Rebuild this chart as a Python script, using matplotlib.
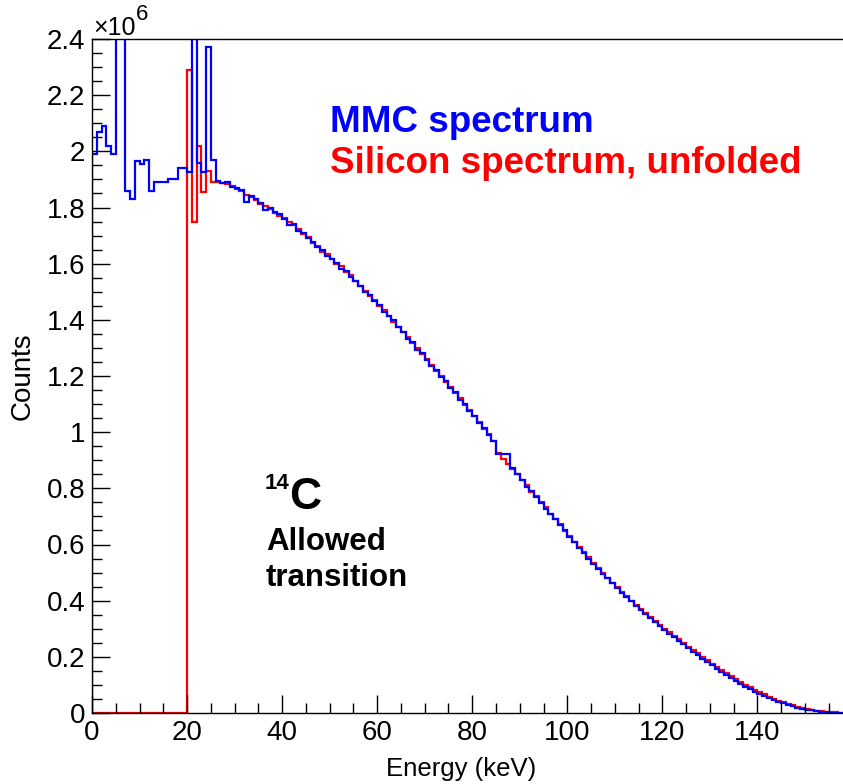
import numpy as np
import matplotlib
matplotlib.use('Agg')
import matplotlib.pyplot as plt
from matplotlib.ticker import MultipleLocator, FuncFormatter

plt.rcParams['font.family'] = ['Liberation Sans Narrow', 'Liberation Sans', 'DejaVu Sans']

# 1 keV bins, 0 .. 158 keV, counts in units of 1e6
edges = np.arange(0, 159, 1)

mmc_low = [1.99, 2.07, 2.09, 2.02, 1.99, 2.90, 2.70, 1.86, 1.83, 1.965,
           1.955, 1.97, 1.86, 1.89, 1.89, 1.89, 1.90, 1.90, 1.94, 1.94,
           1.925, 2.80, 1.96, 1.925, 2.37, 1.97]
si_low = [0.0] * 20 + [2.29, 1.75, 2.02, 1.855, 1.93, 1.89]

# 26 .. 157 keV
mmc_tail = [1.894, 1.886, 1.890, 1.874, 1.870, 1.862, 1.818, 1.840, 1.832, 1.816,
            1.790, 1.800, 1.784, 1.776, 1.760, 1.738, 1.742, 1.716, 1.708, 1.690,
            1.678, 1.660, 1.650, 1.628, 1.616, 1.604, 1.582, 1.574, 1.552, 1.540,
            1.520, 1.498, 1.488, 1.466, 1.452, 1.428, 1.414, 1.398, 1.374, 1.358,
            1.332, 1.322, 1.294, 1.282, 1.258, 1.236, 1.220, 1.196, 1.182, 1.156,
            1.142, 1.116, 1.100, 1.076, 1.058, 1.034, 1.014, 0.990, 0.968, 0.922,
            0.922, 0.922, 0.872, 0.850, 0.830, 0.806, 0.790, 0.770, 0.748, 0.728,
            0.710, 0.690, 0.668, 0.650, 0.628, 0.610, 0.588, 0.570, 0.548, 0.532,
            0.514, 0.494, 0.480, 0.462, 0.446, 0.428, 0.414, 0.398, 0.382, 0.368,
            0.352, 0.338, 0.324, 0.310, 0.296, 0.282, 0.270, 0.256, 0.244, 0.230,
            0.218, 0.206, 0.194, 0.182, 0.170, 0.158, 0.146, 0.136, 0.124, 0.114,
            0.104, 0.094, 0.085, 0.076, 0.068, 0.060, 0.053, 0.046, 0.040, 0.034,
            0.029, 0.024, 0.019, 0.015, 0.012, 0.009, 0.006, 0.004, 0.002, 0.001,
            0.0005, 0.0]
si_tail = [1.890, 1.888, 1.882, 1.878, 1.866, 1.860, 1.846, 1.836, 1.828, 1.812,
           1.806, 1.796, 1.782, 1.770, 1.764, 1.750, 1.736, 1.722, 1.706, 1.694,
           1.672, 1.664, 1.642, 1.634, 1.618, 1.600, 1.590, 1.570, 1.558, 1.538,
           1.522, 1.504, 1.486, 1.470, 1.450, 1.434, 1.412, 1.394, 1.376, 1.356,
           1.338, 1.316, 1.300, 1.278, 1.260, 1.240, 1.218, 1.200, 1.178, 1.160,
           1.138, 1.120, 1.098, 1.078, 1.056, 1.036, 1.012, 0.994, 0.970, 0.926,
           0.904, 0.886, 0.870, 0.852, 0.828, 0.812, 0.788, 0.772, 0.750, 0.732,
           0.708, 0.692, 0.672, 0.648, 0.632, 0.610, 0.592, 0.572, 0.554, 0.534,
           0.516, 0.498, 0.480, 0.464, 0.448, 0.432, 0.416, 0.400, 0.386, 0.370,
           0.356, 0.342, 0.328, 0.314, 0.300, 0.288, 0.274, 0.262, 0.248, 0.236,
           0.224, 0.212, 0.198, 0.188, 0.176, 0.164, 0.152, 0.142, 0.130, 0.120,
           0.110, 0.100, 0.091, 0.082, 0.074, 0.066, 0.058, 0.051, 0.044, 0.038,
           0.032, 0.027, 0.022, 0.018, 0.014, 0.011, 0.008, 0.006, 0.004, 0.003,
           0.002, 0.001]

mmc_counts = np.array(mmc_low + mmc_tail) * 1e6
si_counts = np.array(si_low + si_tail) * 1e6

fig = plt.figure(figsize=(8.43, 7.84), dpi=100)
ax = fig.add_axes([92 / 843, 71 / 784, 1 - 92 / 843, 674 / 784])

ax.stairs(si_counts, edges, color='#ff0000', lw=1.6, baseline=0)
ax.stairs(mmc_counts, edges, color='#0000ff', lw=1.6, baseline=0)

ax.set_xlim(0, 158)
ax.set_ylim(0, 2.4e6)

ax.xaxis.set_major_locator(MultipleLocator(20))
ax.xaxis.set_minor_locator(MultipleLocator(5))
ax.yaxis.set_major_locator(MultipleLocator(0.2e6))
ax.yaxis.set_minor_locator(MultipleLocator(0.05e6))
ax.yaxis.set_major_formatter(FuncFormatter(lambda v, p: '%g' % round(v / 1e6, 2)))

ax.tick_params(which='both', direction='in', top=False, right=False,
               labelsize=20, width=1, color='black', pad=5)
ax.tick_params(which='major', length=13)
ax.tick_params(which='minor', length=7)
ax.spines['right'].set_visible(False)
for s in ['left', 'bottom', 'top']:
    ax.spines[s].set_linewidth(1)

# exponent label of the y axis
fig.text(93 / 843, 1 - 35 / 784, '\u00d710', fontsize=18, va='baseline', ha='left')
fig.text(136 / 843, 1 - 20 / 784, '6', fontsize=16, va='baseline', ha='left')

fig.text(461 / 843, 1 - 769 / 784, 'Energy (keV)', fontsize=18.5, ha='center', va='center')
fig.text(23 / 843, 1 - 376 / 784, 'Counts', fontsize=20, ha='center', va='center',
         rotation=90)

bold = dict(family=['Liberation Sans', 'DejaVu Sans'], fontweight='bold')
fig.text(330 / 843, 1 - 132 / 784, 'MMC spectrum', color='#0000ff', fontsize=26.5,
         va='baseline', **bold)
fig.text(330 / 843, 1 - 173 / 784, 'Silicon spectrum, unfolded', color='#ff0000',
         fontsize=26.5, va='baseline', **bold)

fig.text(265 / 843, 1 - 489 / 784, '14', fontsize=16, va='baseline', **bold)
fig.text(289 / 843, 1 - 509 / 784, 'C', fontsize=32, va='baseline', **bold)
fig.text(266 / 843, 1 - 550 / 784, 'Allowed', fontsize=22.5, va='baseline', **bold)
fig.text(266 / 843, 1 - 586 / 784, 'transition', fontsize=22.5, va='baseline', **bold)

fig.savefig('out.png', dpi=100)
